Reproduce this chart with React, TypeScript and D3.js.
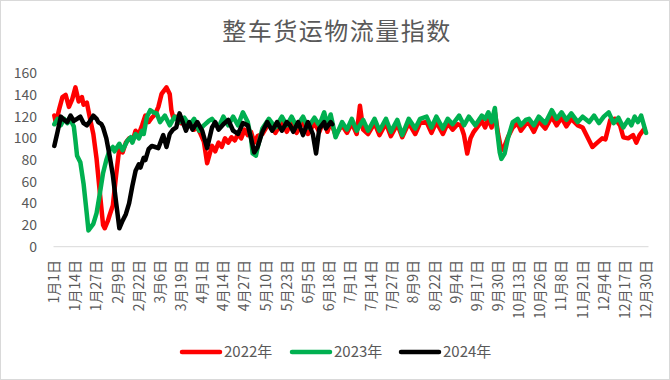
import React from 'react';
import * as d3 from 'd3';

const tickLabels: string[] = [
  '1月1日', '1月14日', '1月27日', '2月9日', '2月22日', '3月6日', '3月19日', '4月1日',
  '4月14日', '4月27日', '5月10日', '5月23日', '6月5日', '6月18日', '7月1日', '7月14日',
  '7月27日', '8月9日', '8月22日', '9月4日', '9月17日', '9月30日', '10月13日', '10月26日',
  '11月8日', '11月21日', '12月4日', '12月17日', '12月30日',
];
const tickStep = 13;
const yTicks: number[] = [0, 20, 40, 60, 80, 100, 120, 140, 160];

// [day of year (0 = 1月1日), index value]
const series2022: [number, number][] = [
  [0,121],[1,114],[3,127],[5,138],[7,140],[9,129],[11,136],[13,147],[15,134],[17,138],[18,131],[20,133],
  [22,118],[24,104],[26,81],[28,50],[30,20],[31,17],[33,24],[34,29],[36,38],[38,66],[40,91],[42,87],
  [44,96],[46,100],[48,97],[50,107],[52,104],[54,112],[56,121],[58,115],[60,119],[62,122],[64,129],
  [66,141],[69,147],[71,141],[72,126],[73,120],[76,120],[78,114],[80,116],[82,111],[84,114],[86,108],
  [88,110],[90,104],[92,97],[94,77],[96,88],[97,93],[99,88],[101,96],[103,92],[105,100],[107,96],
  [109,101],[111,98],[113,104],[115,100],[117,108],[119,103],[121,106],[123,96],[125,102],
  [128,104],[132,114],[136,105],[140,115],[143,106],[146,115],[149,105],[153,116],[156,104],[160,114],
  [163,106],[166,117],[168,106],[170,115],[173,103],[177,112],[180,105],[183,114],[186,104],[188,130],
  [190,108],[193,104],[197,114],[200,103],[204,114],[207,102],[211,113],[214,101],[218,114],[222,104],
  [225,114],[229,115],[232,105],[235,115],[239,104],[242,114],[245,108],[248,113],[250,112],[252,103],
  [254,86],[256,100],[258,106],[261,112],[263,116],[265,110],[267,118],[269,110],[271,124],[273,104],
  [275,89],[277,93],[279,101],[282,110],[285,114],[287,107],[290,113],[292,114],[295,106],[298,116],
  [302,109],[306,120],[309,112],[312,119],[315,111],[318,118],[322,112],[325,110],[327,104],[331,92],
  [334,96],[337,100],[339,99],[342,117],[345,118],[348,112],[350,101],[353,100],[356,103],[358,96],
  [360,103],[363,109],
];

const series2023: [number, number][] = [
  [0,113],[2,118],[4,112],[6,118],[8,114],[10,117],[12,111],[13,98],[14,84],[16,78],[18,58],[20,30],
  [21,15],[24,21],[26,31],[28,49],[30,68],[32,80],[34,89],[36,92],[37,88],[40,95],[42,89],[45,98],
  [47,101],[48,96],[50,104],[52,100],[54,107],[55,104],[57,120],[59,126],[61,124],[63,123],[65,115],
  [68,121],[71,112],[74,120],[77,115],[80,119],[83,112],[86,118],[89,107],[92,112],[95,116],[97,118],
  [101,110],[104,120],[107,112],[110,120],[113,112],[116,124],[119,115],[121,100],[122,86],[124,84],
  [125,91],[128,109],[132,118],[136,110],[140,120],[143,112],[146,120],[149,111],[153,120],[156,110],
  [160,119],[163,112],[166,124],[168,112],[170,122],[173,101],[177,115],[180,108],[183,118],[186,107],
  [190,117],[193,107],[197,118],[200,107],[204,118],[207,106],[211,117],[214,103],[218,118],[222,109],
  [225,118],[229,120],[232,110],[235,120],[239,109],[242,118],[245,113],[249,121],[252,112],[255,120],
  [259,112],[263,121],[265,118],[267,124],[269,115],[271,128],[272,112],[274,87],[275,81],[277,86],
  [279,100],[282,115],[285,118],[287,112],[290,117],[292,118],[295,112],[298,120],[302,114],[306,126],
  [309,118],[312,124],[315,117],[318,123],[322,115],[325,120],[329,115],[332,121],[335,114],[338,120],
  [341,124],[344,114],[347,119],[350,110],[353,117],[355,112],[357,120],[359,115],[361,121],[364,105],
];

const series2024: [number, number][] = [
  [0,93],[2,106],[4,120],[6,117],[8,115],[10,121],[12,116],[14,118],[16,120],[18,114],[20,112],[22,116],
  [24,121],[26,118],[27,115],[29,113],[30,110],[32,100],[34,84],[36,66],[38,41],[40,17],[42,24],[44,30],
  [46,40],[48,56],[50,70],[52,76],[53,73],[55,82],[56,80],[58,90],[60,93],[62,92],[64,91],[66,99],
  [67,103],[69,92],[71,104],[73,108],[75,110],[77,123],[79,115],[81,107],[83,115],[85,108],[88,115],
  [91,107],[94,91],[97,110],[99,115],[101,108],[104,113],[107,117],[110,107],[113,104],[116,114],
  [119,112],[121,100],[123,87],[125,92],[128,106],[131,115],[134,107],[137,115],[140,107],[143,115],
  [145,112],[147,106],[150,115],[153,103],[156,115],[159,104],[161,86],[163,109],[166,115],[167,109],
  [170,115],[171,113],
];

const seriesNames: string[] = ['2022年', '2023年', '2024年'];
const seriesColors: string[] = ['#FF0000', '#00B050', '#000000'];
const allSeries = [series2022, series2023, series2024];

const FONT = '"Noto Sans CJK SC", "Noto Sans", sans-serif';
const TEXT = '#595959';

export default function App() {
  const W = 670, H = 380;
  const x = d3.scaleLinear().domain([-0.5, 365.5]).range([53.5, 648.5]);
  const y = d3.scaleLinear().domain([0, 160]).range([246.7, 73.3]);
  const line = d3.line<[number, number]>().x(d => x(d[0])).y(d => y(d[1]));
  const legendX = [182, 292, 401];

  return (
    <svg width={W} height={H} style={{ position: 'absolute', left: 0, top: 0, background: '#fff' }}
      fontFamily={FONT}>
      <rect x={0.5} y={0.5} width={W - 1} height={H - 1} fill="#fff" stroke="#D9D9D9" />
      <text x={337} y={32} textAnchor="middle" dy="0.35em" fontSize={24} letterSpacing={1.5} fill={TEXT}>
        整车货运物流量指数
      </text>
      {yTicks.map(t => (
        <text key={t} x={37} y={y(t)} dy="0.35em" textAnchor="end" fontSize={14} fill={TEXT}>{t}</text>
      ))}
      <line x1={x.range()[0]} x2={x.range()[1]} y1={y(0)} y2={y(0)} stroke="#D9D9D9" strokeWidth={1} />
      {tickLabels.map((lab, i) => (
        <text key={lab} transform={`translate(${x(i * tickStep)},260) rotate(-90)`} dy="0.35em"
          textAnchor="end" fontSize={14} fill={TEXT}>{lab}</text>
      ))}
      {allSeries.map((s, i) => (
        <path key={i} d={line(s) || ''} fill="none" stroke={seriesColors[i]} strokeWidth={4.5}
          strokeLinejoin="round" strokeLinecap="round" />
      ))}
      {seriesNames.map((n, i) => (
        <g key={n}>
          <line x1={legendX[i]} x2={legendX[i] + 38} y1={352} y2={352} stroke={seriesColors[i]}
            strokeWidth={4.5} strokeLinecap="round" />
          <text x={legendX[i] + 42} y={352} dy="0.35em" fontSize={15} fill={TEXT}>{n}</text>
        </g>
      ))}
    </svg>
  );
}
